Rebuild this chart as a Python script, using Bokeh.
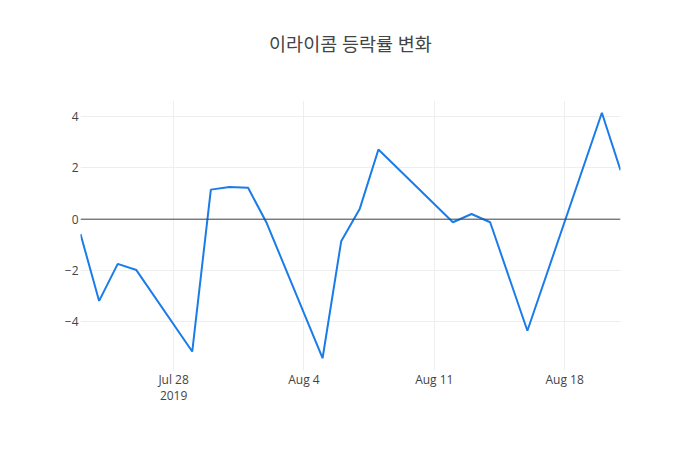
from datetime import datetime

from bokeh.embed import file_html
from bokeh.models import FixedTicker, LinearAxis, Range1d, Span
from bokeh.plotting import figure
from bokeh.resources import INLINE

# daily change rate (%)
dates = ["2019-07-23", "2019-07-24", "2019-07-25", "2019-07-26", "2019-07-29",
         "2019-07-30", "2019-07-31", "2019-08-01", "2019-08-02", "2019-08-05",
         "2019-08-06", "2019-08-07", "2019-08-08", "2019-08-12", "2019-08-13",
         "2019-08-14", "2019-08-16", "2019-08-20", "2019-08-21"]
change = [-0.58, -3.18, -1.74, -1.98, -5.15,
          1.15, 1.25, 1.22, -0.15, -5.41,
          -0.86, 0.41, 2.71, -0.12, 0.20,
          -0.12, -4.34, 4.14, 1.91]

x_tick_dates = ["2019-07-28", "2019-08-04", "2019-08-11", "2019-08-18"]
x_tick_labels = ["Jul 28\n2019", "Aug 4", "Aug 11", "Aug 18"]
y_ticks = [-4, -2, 0, 2, 4]
y_tick_labels = ["\u22124", "\u22122", "0", "2", "4"]

title = "이라이콤 등락률 변화"

FONT = "'Open Sans', 'Noto Sans CJK KR', sans-serif"

x = [datetime.strptime(d, "%Y-%m-%d") for d in dates]
ms = lambda d: datetime.strptime(d, "%Y-%m-%d").timestamp() * 1000

pad = 0.05 * (max(change) - min(change))

p = figure(width=700, height=450, x_axis_type="datetime",
           x_range=Range1d(x[0], x[-1]),
           y_range=Range1d(min(change) - pad, max(change) + pad),
           toolbar_location=None, tools="", output_backend="svg",
           min_border_left=80, min_border_right=80,
           min_border_top=100, min_border_bottom=80)

p.outline_line_color = None
p.background_fill_color = "white"
p.border_fill_color = "white"

p.line(x, change, line_color="#1a7ce8", line_width=2)
p.add_layout(Span(location=0, dimension="width", line_color="#444444", line_width=1))

xaxis = p.below[0]
yaxis = p.left[0]

xt = [ms(d) for d in x_tick_dates]
xaxis.ticker = FixedTicker(ticks=xt)
xaxis.major_label_overrides = dict(zip(xt, x_tick_labels))
yaxis.ticker = FixedTicker(ticks=y_ticks)
yaxis.major_label_overrides = dict(zip(y_ticks, y_tick_labels))

for ax in (xaxis, yaxis):
    ax.axis_line_color = None
    ax.major_tick_line_color = None
    ax.minor_tick_line_color = None
    ax.major_tick_out = 0
    ax.major_tick_in = 0
    ax.minor_tick_out = 0
    ax.major_label_text_font = FONT
    ax.major_label_text_font_size = "12px"
    ax.major_label_text_color = "#444444"
    ax.major_label_text_line_height = 0.95
yaxis.major_label_standoff = 2
xaxis.major_label_standoff = 0

p.xgrid.grid_line_color = "#eeeeee"
p.ygrid.grid_line_color = "#eeeeee"

# title as the label of an empty axis on top, so it can sit higher
top = LinearAxis(axis_label=title, ticker=FixedTicker(ticks=[], minor_ticks=[]))
top.axis_line_color = None
top.major_tick_line_color = None
top.minor_tick_line_color = None
top.major_tick_out = 0
top.minor_tick_out = 0
top.axis_label_standoff = 45
top.axis_label_text_font = FONT
top.axis_label_text_font_size = "18.5px"
top.axis_label_text_font_style = "normal"
top.axis_label_text_color = "#444444"
p.add_layout(top, "above")

open("out.html", "w").write(file_html(p, INLINE))
